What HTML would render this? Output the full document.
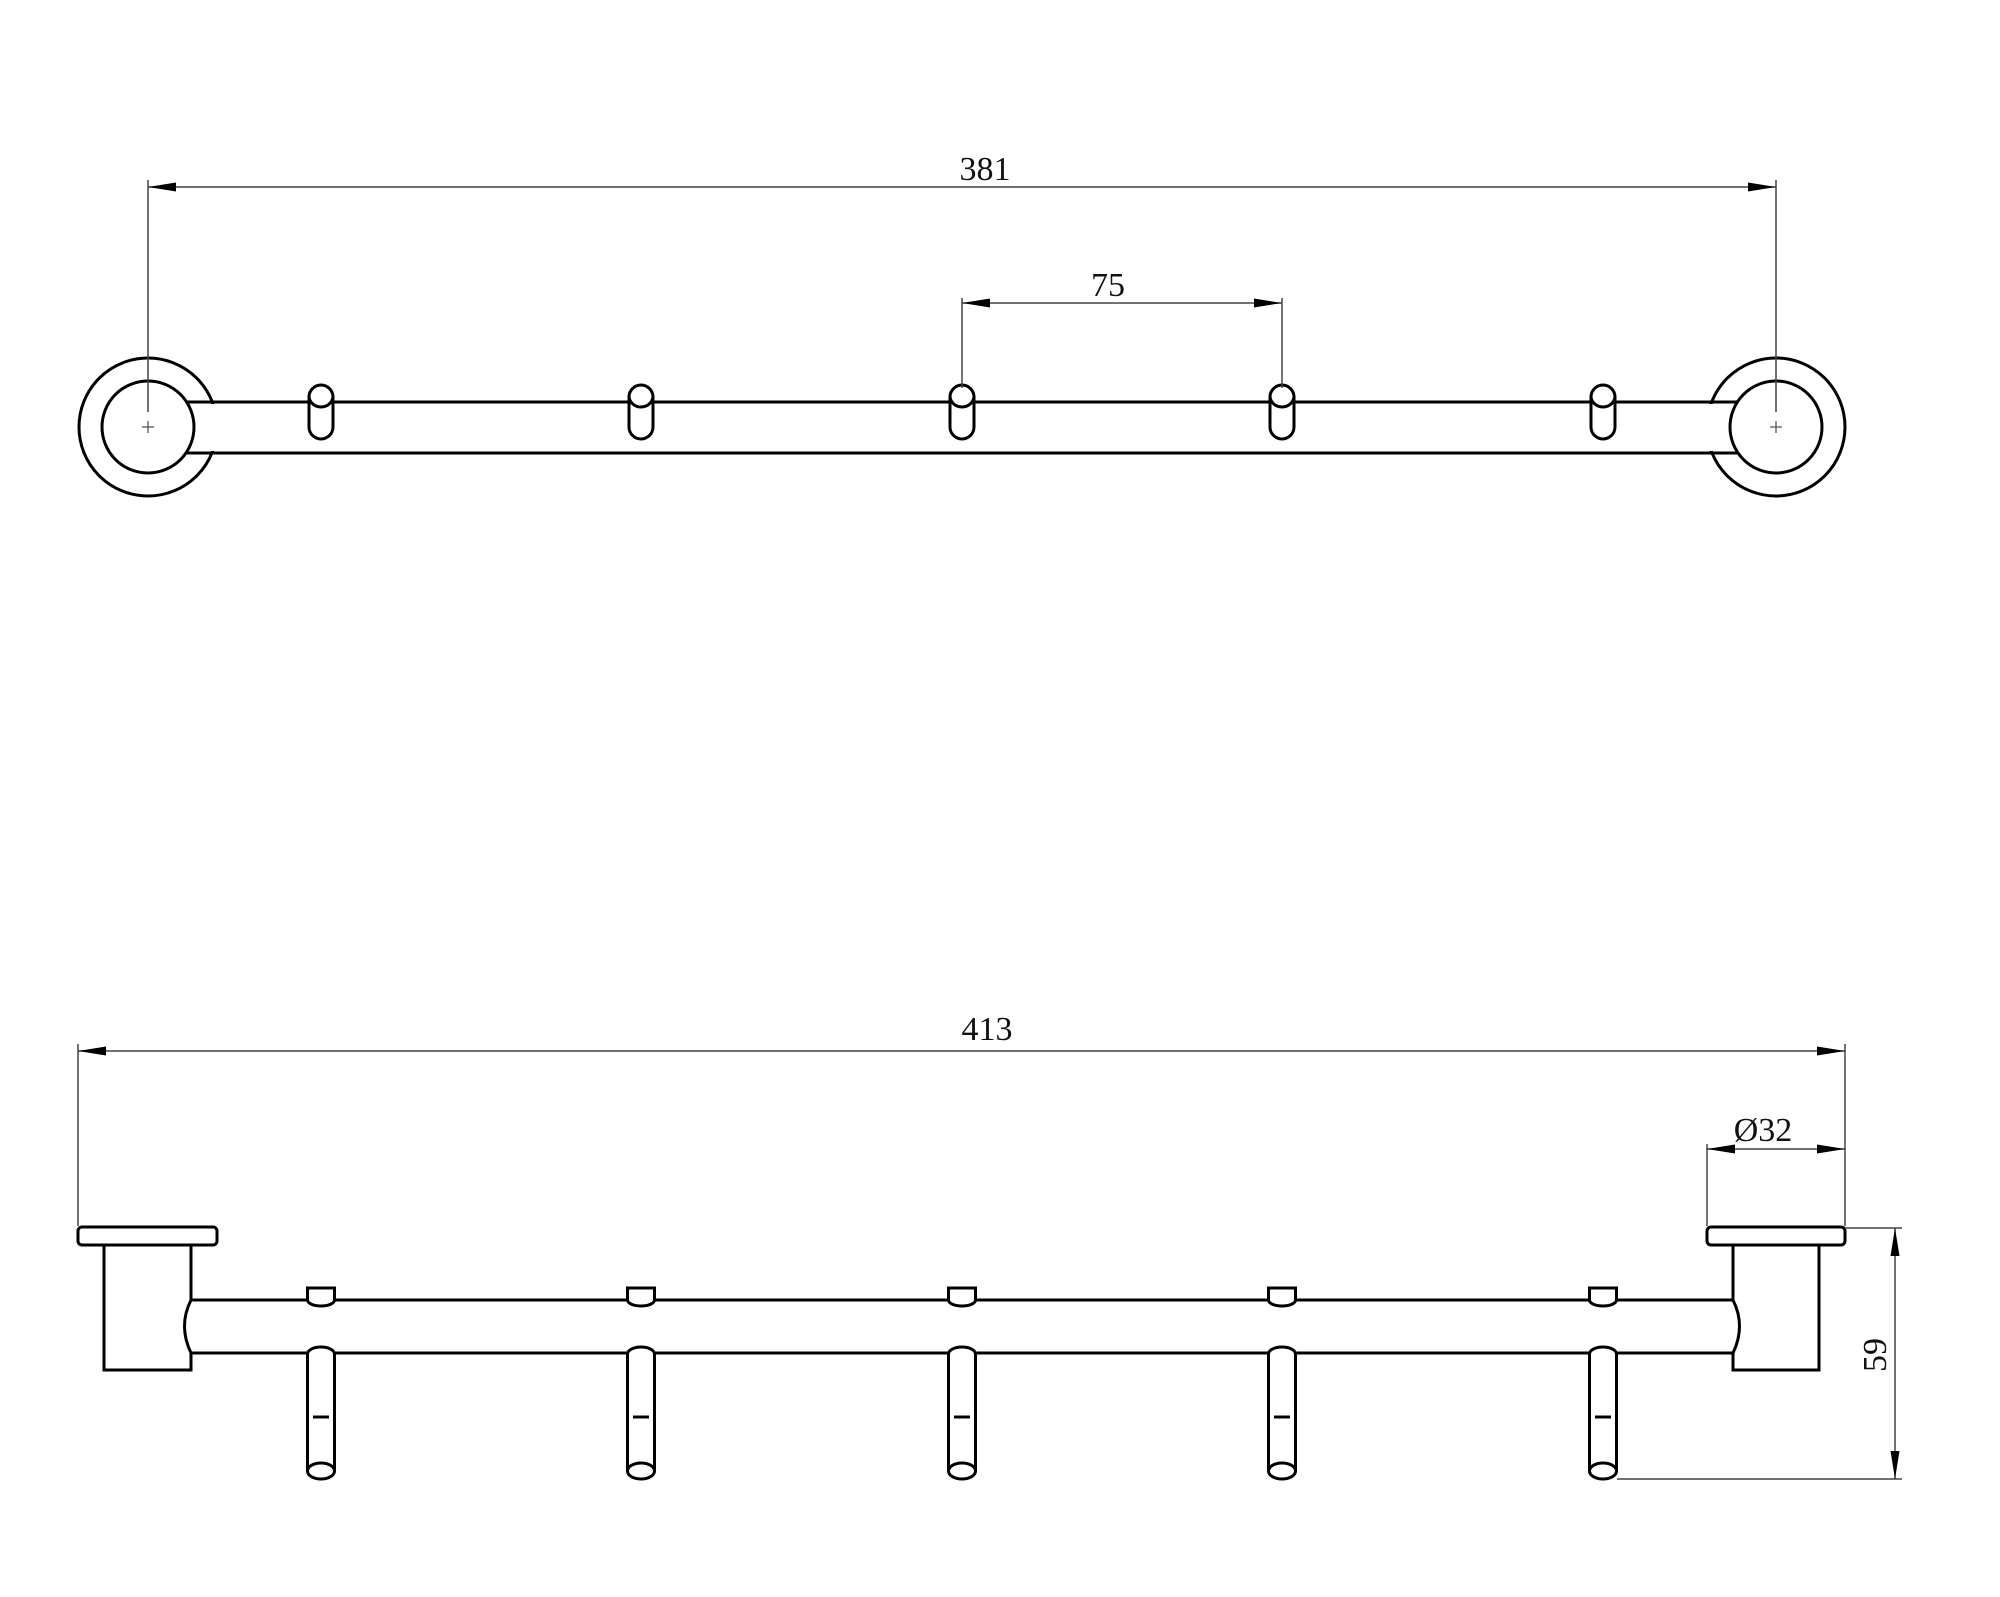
<!DOCTYPE html>
<html><head><meta charset="utf-8"><style>
html,body{margin:0;padding:0;background:#fff;}
svg{display:block;}
text{font-family:"Liberation Serif",serif;fill:#111;}
</style></head><body>
<svg width="2000" height="1597" viewBox="0 0 2000 1597" xmlns="http://www.w3.org/2000/svg">
<defs>
<g id="thook" fill="none" stroke="#000" stroke-width="3">
<rect x="-12" y="385" width="24" height="54" rx="12" fill="#fff"/>
<path d="M-12 396 A12 11 0 0 0 12 396"/>
</g>
<g id="shook" fill="none" stroke="#000" stroke-width="3">
<path d="M-13.5 1300 L-13.5 1288 L13.5 1288 L13.5 1300 A13.5 6 0 0 1 -13.5 1300" fill="#fff"/>
<path d="M-13.5 1471 L-13.5 1354 A13.5 7 0 0 1 13.5 1354 L13.5 1471" fill="#fff"/>
<ellipse cx="0" cy="1471" rx="13.5" ry="8" fill="#fff"/>
<line x1="-8" y1="1417" x2="8" y2="1417"/>
</g>
</defs>

<g fill="none" stroke="#000" stroke-width="3">
<circle cx="148" cy="427" r="69"/>
<circle cx="1776" cy="427" r="69"/>
</g>
<rect x="186" y="404" width="1552" height="47" fill="#fff"/>
<g fill="none" stroke="#000" stroke-width="3">
<line x1="186" y1="402" x2="1738" y2="402"/>
<line x1="186" y1="453" x2="1738" y2="453"/>
<circle cx="148" cy="427" r="46" fill="#fff"/>
<circle cx="1776" cy="427" r="46" fill="#fff"/>
</g>
<use href="#thook" x="321"/><use href="#thook" x="641"/><use href="#thook" x="962"/><use href="#thook" x="1282"/><use href="#thook" x="1603"/>
<g stroke="#555" stroke-width="1.3">
<line x1="142" y1="427" x2="154" y2="427"/><line x1="148" y1="421" x2="148" y2="433"/>
<line x1="1770" y1="427" x2="1782" y2="427"/><line x1="1776" y1="421" x2="1776" y2="433"/>
</g>
<g stroke="#444" stroke-width="1.5" fill="none">
<line x1="148" y1="180" x2="148" y2="412"/>
<line x1="1776" y1="180" x2="1776" y2="412"/>
<line x1="148" y1="187" x2="1776" y2="187"/>
<line x1="962" y1="298" x2="962" y2="388"/>
<line x1="1282" y1="298" x2="1282" y2="388"/>
<line x1="962" y1="303" x2="1282" y2="303"/>
</g>
<g fill="#000">
<polygon points="148,187 176,182.5 176,191.5"/>
<polygon points="1776,187 1748,182.5 1748,191.5"/>
<polygon points="962,303 990,298.5 990,307.5"/>
<polygon points="1282,303 1254,298.5 1254,307.5"/>
</g>
<text x="985" y="180" font-size="34" text-anchor="middle">381</text>
<text x="1108" y="296" font-size="34" text-anchor="middle">75</text>

<g fill="none" stroke="#000" stroke-width="3">
<rect x="78" y="1227" width="139" height="18" rx="4" fill="#fff"/>
<rect x="1707" y="1227" width="138" height="18" rx="4" fill="#fff"/>
<path d="M191 1245 L104 1245 L104 1370 L191 1370 L191 1353 Q178 1326 191 1300 Z" fill="#fff"/>
<path d="M1733 1245 L1819 1245 L1819 1370 L1733 1370 L1733 1353 Q1746 1326 1733 1300 Z" fill="#fff"/>
<line x1="191" y1="1300" x2="1733" y2="1300"/>
<line x1="191" y1="1353" x2="1733" y2="1353"/>
</g>
<use href="#shook" x="321"/><use href="#shook" x="641"/><use href="#shook" x="962"/><use href="#shook" x="1282"/><use href="#shook" x="1603"/>
<g stroke="#444" stroke-width="1.5" fill="none">
<line x1="78" y1="1044" x2="78" y2="1226"/>
<line x1="1845" y1="1044" x2="1845" y2="1226"/>
<line x1="78" y1="1051" x2="1845" y2="1051"/>
<line x1="1707" y1="1144" x2="1707" y2="1226"/>
<line x1="1707" y1="1149" x2="1845" y2="1149"/>
<line x1="1845" y1="1228" x2="1902" y2="1228"/>
<line x1="1617" y1="1479" x2="1902" y2="1479"/>
<line x1="1895" y1="1228" x2="1895" y2="1479"/>
</g>
<g fill="#000">
<polygon points="78,1051 106,1046.5 106,1055.5"/>
<polygon points="1845,1051 1817,1046.5 1817,1055.5"/>
<polygon points="1707,1149 1735,1144.5 1735,1153.5"/>
<polygon points="1845,1149 1817,1144.5 1817,1153.5"/>
<polygon points="1895,1228 1890.5,1256 1899.5,1256"/>
<polygon points="1895,1479 1890.5,1451 1899.5,1451"/>
</g>
<text x="987" y="1040" font-size="34" text-anchor="middle">413</text>
<text x="1763" y="1141" font-size="34" text-anchor="middle">Ø32</text>
<text x="0" y="0" font-size="34" text-anchor="middle" transform="translate(1886 1355) rotate(-90)">59</text>
</svg>
</body></html>
